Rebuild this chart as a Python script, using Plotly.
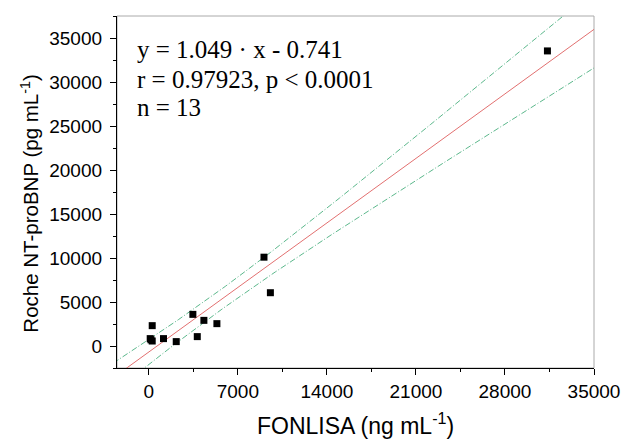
import numpy as np
import plotly.graph_objects as go

# Data
fonlisa = [110, 173, 268, 268, 1157, 2157, 3465, 3811, 4331, 5354, 9055, 9559, 31339]
roche = [840, 703, 567, 2313, 840, 499, 3595, 1066, 2914, 2540, 10093, 6056, 33532]

eq_lines = ["y = 1.049 · x - 0.741", "r = 0.97923, p < 0.0001", "n = 13"]
x_title = "FONLISA (ng mL<sup>-1</sup>)"
y_title = "Roche NT-proBNP (pg mL<sup>-1</sup>)"

x_ticks = [0, 7000, 14000, 21000, 28000, 35000]
y_ticks = [0, 5000, 10000, 15000, 20000, 25000, 30000, 35000]

x_range = [-2500, 35000]
y_range = [-2500, 37500]

# Linear fit and 95% confidence band of the mean
x = np.array(fonlisa, dtype=float)
y = np.array(roche, dtype=float)
n = len(x)
slope, intercept = np.polyfit(x, y, 1)
resid = y - (slope * x + intercept)
s = np.sqrt(np.sum(resid ** 2) / (n - 2))
t_val = 2.201  # t(0.975, 11)
xbar = x.mean()
sxx = np.sum((x - xbar) ** 2)
xg = np.linspace(x_range[0] - 1000, x_range[1] + 1000, 300)
yfit = slope * xg + intercept
half = t_val * s * np.sqrt(1.0 / n + (xg - xbar) ** 2 / sxx)

band_color = "#5cb88c"
fig = go.Figure()
fig.add_trace(go.Scatter(x=xg, y=yfit + half, mode="lines",
                         line=dict(color=band_color, width=1, dash="6px,2px,1px,2px"),
                         hoverinfo="skip", showlegend=False))
fig.add_trace(go.Scatter(x=xg, y=yfit - half, mode="lines",
                         line=dict(color=band_color, width=1, dash="6px,2px,1px,2px"),
                         hoverinfo="skip", showlegend=False))
fig.add_trace(go.Scatter(x=xg, y=yfit, mode="lines",
                         line=dict(color="#e27070", width=1),
                         hoverinfo="skip", showlegend=False))
fig.add_trace(go.Scatter(x=fonlisa, y=roche, mode="markers",
                         marker=dict(symbol="square", size=7, color="black"),
                         showlegend=False))

ann_y = [0.9035, 0.821, 0.739]
for txt, yy in zip(eq_lines, ann_y):
    fig.add_annotation(x=0.037, y=yy, xref="paper", yref="paper",
                       xanchor="left", yanchor="middle", showarrow=False,
                       text=txt,
                       font=dict(family="Liberation Serif", size=25, color="black"))

# Axis titles
fig.add_annotation(x=0.5, y=-0.16, xref="paper", yref="paper",
                   xanchor="center", yanchor="middle", showarrow=False,
                   text=x_title,
                   font=dict(family="Liberation Sans", size=23, color="black"))
fig.add_annotation(x=-0.183, y=0.466, xref="paper", yref="paper",
                   xanchor="center", yanchor="middle", showarrow=False, textangle=-90,
                   text=y_title,
                   font=dict(family="Liberation Sans", size=20.5, color="black"))

fig.add_shape(type="rect", xref="paper", yref="paper", x0=0, y0=0, x1=1, y1=1,
              line=dict(color="#aaaaaa", width=1), layer="below")

tick_font = dict(family="Liberation Sans", size=19, color="black")

fig.update_xaxes(range=x_range, tickvals=x_ticks, ticktext=[str(v) for v in x_ticks],
                 showgrid=False, zeroline=False, showline=True, linecolor="black", linewidth=1.3,
                 ticks="outside", ticklen=6, tickwidth=1, tickcolor="black",
                 minor=dict(dtick=3500, tick0=0, ticks="outside", ticklen=3, tickcolor="black", showgrid=False),
                 tickfont=tick_font, automargin=False)
fig.update_yaxes(range=y_range, tickvals=y_ticks, ticktext=[str(v) for v in y_ticks],
                 showgrid=False, zeroline=False, showline=True, linecolor="black", linewidth=1.3,
                 ticks="outside", ticklen=6, tickwidth=1, tickcolor="black",
                 minor=dict(dtick=2500, tick0=0, ticks="outside", ticklen=3, tickcolor="black", showgrid=False),
                 tickfont=tick_font, ticklabelstandoff=4, automargin=False)

fig.update_layout(width=622, height=442, margin=dict(l=117, r=28, t=16, b=74, autoexpand=False),
                  paper_bgcolor="white", plot_bgcolor="white")

fig.write_html("out.html", config={"displayModeBar": False},
               post_script="document.body.style.margin='0';document.body.style.overflow='hidden';")
